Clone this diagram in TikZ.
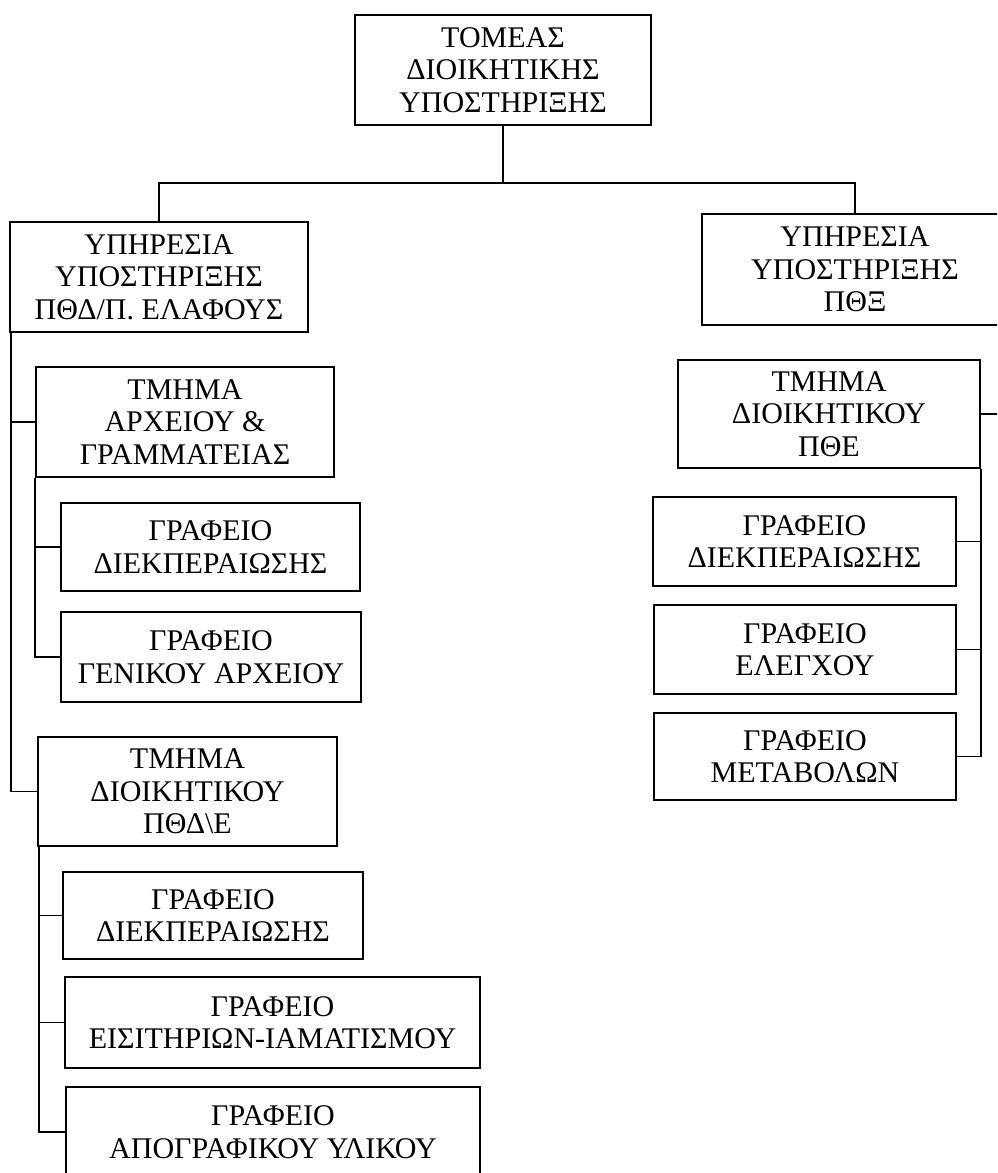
\documentclass[tikz,border=0pt]{standalone}
\usepackage{fontspec}
\setmainfont{Liberation Serif}
\usetikzlibrary{positioning}
\tikzset{unit/.style={rectangle,draw=black,fill=white,line width=1.4pt,inner sep=0pt,align=center,font=\fontsize{30}{32.5}\selectfont}}
\tikzset{link/.style={line width=1.8pt}}

\begin{document}
\begin{tikzpicture}[x=1pt,y=-1pt]
\clip (0,0) rectangle (997,1173);
\fill[white] (0,0) rectangle (997,1173);
% top
\node (top) [unit, minimum width=296pt, minimum height=110pt] at (503,70) {ΤΟΜΕΑΣ\\ΔΙΟΙΚΗΤΙΚΗΣ\\ΥΠΟΣΤΗΡΙΞΗΣ};
\coordinate (split) at (503,183);
% left column
\node (ysleft)  [unit, minimum width=298pt, minimum height=110pt] at (159,277) {ΥΠΗΡΕΣΙΑ\\ΥΠΟΣΤΗΡΙΞΗΣ\\ΠΘΔ/Π. ΕΛΑΦΟΥΣ};
\node (tmarx)   [unit, minimum width=298pt, minimum height=110pt] at (185,422) {ΤΜΗΜΑ\\ΑΡΧΕΙΟΥ \&\\ΓΡΑΜΜΑΤΕΙΑΣ};
\node (grdiek)  [unit, minimum width=299pt, minimum height=88pt] at (210.5,547) {ΓΡΑΦΕΙΟ\\ΔΙΕΚΠΕΡΑΙΩΣΗΣ};
\node (grgen)   [unit, minimum width=300pt, minimum height=90pt] at (211,657) {ΓΡΑΦΕΙΟ\\ΓΕΝΙΚΟΥ ΑΡΧΕΙΟΥ};
\node (tmdioik) [unit, minimum width=299pt, minimum height=109pt] at (187.5,791.5) {ΤΜΗΜΑ\\ΔΙΟΙΚΗΤΙΚΟΥ\\ΠΘΔ\textbackslash Ε};
\node (grdiekb) [unit, minimum width=300pt, minimum height=87pt] at (213,915.5) {ΓΡΑΦΕΙΟ\\ΔΙΕΚΠΕΡΑΙΩΣΗΣ};
\node (greis)   [unit, minimum width=415pt, minimum height=91pt] at (272.5,1022.5) {ΓΡΑΦΕΙΟ\\ΕΙΣΙΤΗΡΙΩΝ-ΙΑΜΑΤΙΣΜΟΥ};
\node (grapog)  [unit, minimum width=414pt, minimum height=90pt] at (273,1132) {ΓΡΑΦΕΙΟ\\ΑΠΟΓΡΑΦΙΚΟΥ ΥΛΙΚΟΥ};
% right column
\node (ysright) [unit, minimum width=306pt, minimum height=111pt] at (855,269.5) {ΥΠΗΡΕΣΙΑ\\ΥΠΟΣΤΗΡΙΞΗΣ\\ΠΘΞ};
\node (tmpthe)  [unit, minimum width=302pt, minimum height=108pt] at (829,414) {ΤΜΗΜΑ\\ΔΙΟΙΚΗΤΙΚΟΥ\\ΠΘΕ};
\node (grdiekc) [unit, minimum width=303pt, minimum height=89pt] at (804.5,541.5) {ΓΡΑΦΕΙΟ\\ΔΙΕΚΠΕΡΑΙΩΣΗΣ};
\node (grelen)  [unit, minimum width=302pt, minimum height=89pt] at (805,649.5) {ΓΡΑΦΕΙΟ\\ΕΛΕΓΧΟΥ};
\node (grmet)   [unit, minimum width=302pt, minimum height=87pt] at (805,756.5) {ΓΡΑΦΕΙΟ\\ΜΕΤΑΒΟΛΩΝ};
% links
\draw [link] (top.south) -- (split);
\draw [link] (ysleft.north) |- (split) -| (ysright.north);
\draw [link] ([xshift=2pt]ysleft.south west) |- (tmarx.west);
\draw [link] ([xshift=2pt]ysleft.south west) |- (tmdioik.west);
\draw [link] (tmarx.south west) |- (grdiek.west);
\draw [link] (tmarx.south west) |- (grgen.west);
\draw [link] ([xshift=2pt]tmdioik.south west) |- (grdiekb.west);
\draw [link] ([xshift=2pt]tmdioik.south west) |- (greis.west);
\draw [link] ([xshift=2pt]tmdioik.south west) |- (grapog.west);
\draw [link] ([xshift=-5pt]ysright.south east) |- (tmpthe.east);
\draw [link] (tmpthe.south east) |- (grdiekc.east);
\draw [link] (tmpthe.south east) |- (grelen.east);
\draw [link] (tmpthe.south east) |- (grmet.east);
\end{tikzpicture}
\end{document}
